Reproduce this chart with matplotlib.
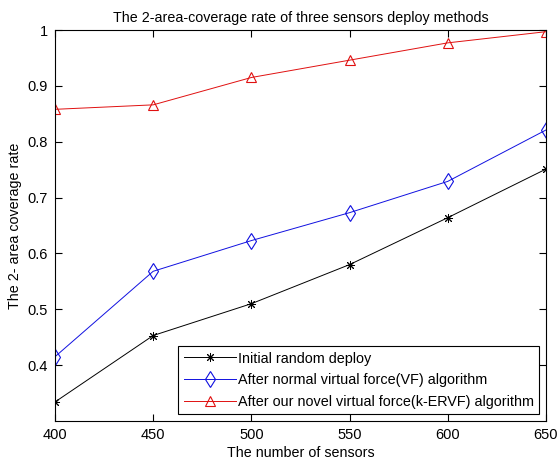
import numpy as np
import matplotlib
matplotlib.use("Agg")
import matplotlib.pyplot as plt

# data
n_sensors = [400, 450, 500, 550, 600, 650]
random_deploy = [0.334, 0.453, 0.510, 0.580, 0.664, 0.751]
vf_deploy = [0.415, 0.568, 0.623, 0.673, 0.729, 0.821]
kervf_deploy = [0.858, 0.866, 0.915, 0.946, 0.977, 0.997]

labels = ['Initial random deploy',
          'After normal virtual force(VF) algorithm',
          'After our novel virtual force(k-ERVF) algorithm']

plt.rcParams['font.family'] = ['Liberation Sans', 'DejaVu Sans']

fig = plt.figure(figsize=(5.57, 4.66), dpi=100)
ax = fig.add_axes([0.0987, 0.0966, 0.8815, 0.839])

# matlab style '*' = 8 spokes
ax.plot(n_sensors, random_deploy, color='black', marker=(8, 2, 0), markersize=6.5,
        markeredgewidth=0.7, linewidth=0.7, label=labels[0])
ax.plot(n_sensors, vf_deploy, color='#1010e0', marker='d', markersize=8.5,
        markerfacecolor='none', markeredgewidth=0.8, linewidth=0.7, label=labels[1])
ax.plot(n_sensors, kervf_deploy, color='#e01010', marker='^', markersize=7.5,
        markerfacecolor='none', markeredgewidth=0.8, linewidth=0.7, label=labels[2])

ax.set_xlim(400, 650)
ax.set_ylim(0.3, 1.0)
ax.set_xticks(n_sensors)
ax.set_yticks([0.4, 0.5, 0.6, 0.7, 0.8, 0.9, 1.0])
ax.set_yticklabels(['0.4', '0.5', '0.6', '0.7', '0.8', '0.9', '1'])
ax.tick_params(direction='in', length=5, width=0.8, top=True, right=True,
               labelsize=10.5, pad=5)
for s in ax.spines.values():
    s.set_linewidth(0.8)

ax.set_title('The 2-area-coverage rate of three sensors deploy methods',
             fontsize=10.3, pad=6)
ax.set_xlabel('The number of sensors', fontsize=10.3, labelpad=3)
ax.set_ylabel('The 2- area coverage rate', fontsize=10.3, labelpad=4)

leg = ax.legend(loc='lower right', fontsize=10.4, fancybox=False, framealpha=1,
                edgecolor='black', borderaxespad=0.45, handlelength=3.6,
                handletextpad=0.2, labelspacing=0.55, borderpad=0.35)
leg.get_frame().set_linewidth(0.8)

fig.savefig('out.png', dpi=100)
